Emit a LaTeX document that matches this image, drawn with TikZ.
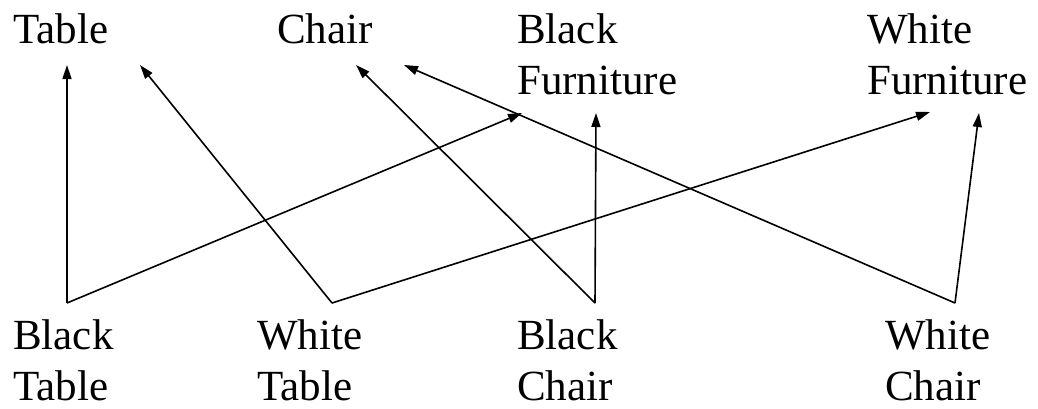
\documentclass[tikz,border=0pt]{standalone}
\usepackage{fontspec}
\setmainfont{Liberation Serif}
\usetikzlibrary{arrows.meta}
\begin{document}
\begin{tikzpicture}[
    x=1pt, y=-1pt,
    catLabel/.style={anchor=base west, inner sep=0pt, align=left, font=\fontsize{43}{51}\selectfont},
    catEdge/.style={line width=1.6pt, -{Triangle[length=14pt,width=9pt]}}
]
\useasboundingbox (0,0) rectangle (1038,408);
% top row: general categories
\node[catLabel] (table) at (13,43) {Table};
\node[catLabel] (chair) at (277,43) {Chair};
\node[catLabel] (bfurn) at (517,94) {Black\\Furniture};
\node[catLabel] (wfurn) at (867,94) {White\\Furniture};

% bottom row: specific items
\node[catLabel] (btable) at (13,400) {Black\\Table};
\node[catLabel] (wtable) at (257,400) {White\\Table};
\node[catLabel] (bchair) at (517,400) {Black\\Chair};
\node[catLabel] (wchair) at (885,400) {White\\Chair};

% arrow end points
\coordinate (btableOut) at (67,303);
\coordinate (wtableOut) at (332,303);
\coordinate (bchairOut) at (595,303);
\coordinate (wchairOut) at (955,303);
\coordinate (tableInA) at (67,65);
\coordinate (tableInB) at (140,65);
\coordinate (chairInA) at (356,65);
\coordinate (chairInB) at (404,65);
\coordinate (bfurnInA) at (522,113);
\coordinate (bfurnInB) at (596,113);
\coordinate (wfurnInA) at (930,112);
\coordinate (wfurnInB) at (979,113);

% is-a links
\draw[catEdge] (btableOut) -- (tableInA);
\draw[catEdge] (btableOut) -- (bfurnInA);
\draw[catEdge] (wtableOut) -- (tableInB);
\draw[catEdge] (wtableOut) -- (wfurnInA);
\draw[catEdge] (bchairOut) -- (chairInA);
\draw[catEdge] (bchairOut) -- (bfurnInB);
\draw[catEdge] (wchairOut) -- (chairInB);
\draw[catEdge] (wchairOut) -- (wfurnInB);
\end{tikzpicture}
\end{document}
